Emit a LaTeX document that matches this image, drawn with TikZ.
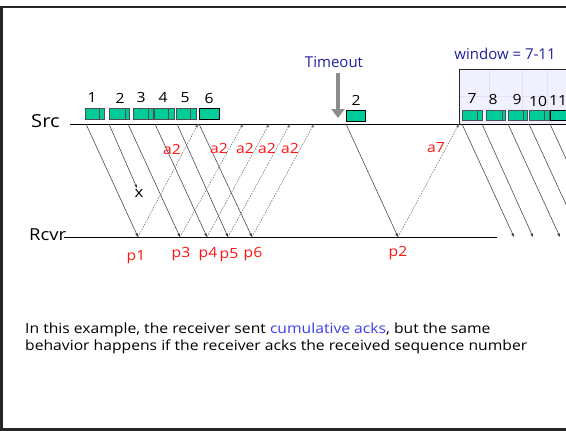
\documentclass[tikz,border=0pt]{standalone}
\usepackage{fontspec}
\setmainfont{Open Sans}
\newfontfamily\widesans[FakeStretch=1.12]{Open Sans}
\usetikzlibrary{arrows.meta}
\definecolor{pktgreen}{RGB}{0,204,153}
\definecolor{pktedge}{RGB}{80,80,80}
\definecolor{lblred}{RGB}{255,20,20}
\definecolor{darkblue}{RGB}{32,32,160}
\definecolor{ackblue}{RGB}{60,60,240}
\definecolor{lavender}{RGB}{240,240,255}
\definecolor{lavgrid}{RGB}{226,226,246}
\begin{document}
\begin{tikzpicture}[x=1pt,y=-1pt,
  pktbox/.style={fill=pktgreen,draw=pktedge,line width=0.8pt},
  pktlast/.style={fill=pktgreen,draw=black,line width=0.8pt},
  divider/.style={draw=pktedge,line width=0.8pt},
  datarrow/.style={draw=black!80,line width=0.5pt,-{Stealth[length=4pt,width=2.6pt]}},
  ackarrow/.style={draw=black!60,line width=0.5pt,dash pattern=on 1.5pt off 1.2pt,-{Stealth[length=4pt,width=2.6pt]}},
  seqlbl/.style={font=\widesans\fontsize{14}{16}\selectfont,inner sep=0pt},
  redlbl/.style={font=\widesans\fontsize{14}{16}\selectfont,text=lblred,inner sep=0pt},
  axislbl/.style={font=\widesans\fontsize{18}{20}\selectfont,inner sep=0pt,anchor=base west},
  bodytext/.style={font=\widesans\fontsize{14}{16}\selectfont,inner sep=0pt,anchor=base west}
]
\useasboundingbox (0,0) rectangle (566,431);
% frame
\draw[line width=2.6pt,black!85] (580,7) -- (1.6,7) -- (1.6,429.2) -- (580,429.2);
% window box
\fill[lavender] (459,69) rectangle (580,123.5);
\foreach \gx in {489,522,547} \draw[lavgrid,line width=0.4pt] (\gx,70) -- (\gx,123);
\draw[lavgrid,line width=0.4pt] (460,96) -- (580,96);
\draw[black!85,line width=0.9pt] (580,69) -- (459,69) -- (459,124);
% time lines
\node[axislbl] (src) at (31,127) {Src};
\node[axislbl,font=\widesans\fontsize{16.5}{18}\selectfont] (rcvr) at (29,240.5) {Rcvr};
\coordinate (srcL) at (70,124);
\coordinate (srcR) at (580,124);
\coordinate (rcvL) at (64,237);
\coordinate (rcvR) at (497,237);
\draw[black,line width=0.9pt] (srcL) -- (srcR);
\draw[black,line width=0.9pt] (rcvL) -- (rcvR);
% original packets
\draw[pktbox] (85,108) rectangle (104,119);  \draw[divider] (99,108) -- (99,119);
\draw[pktbox] (109,108) rectangle (129,119); \draw[divider] (125,108) -- (125,119);
\draw[pktbox] (133,108) rectangle (153,119); \draw[divider] (148,108) -- (148,119);
\draw[pktbox] (154,108) rectangle (174,119); \draw[divider] (168,108) -- (168,119);
\draw[pktbox] (176,108) rectangle (196,119); \draw[divider] (190,108) -- (190,119);
\draw[pktlast] (199,108) rectangle (219,119);
\node[seqlbl] (n1) at (92,98) {1};
\node[seqlbl] (n2) at (120,98) {2};
\node[seqlbl] (n3) at (141,97) {3};
\node[seqlbl] (n4) at (163,97) {4};
\node[seqlbl] (n5) at (185,98) {5};
\node[seqlbl] (n6) at (209,98) {6};
% retransmission
\draw[pktlast] (346,110) rectangle (365,121);
\node[seqlbl] (nr2) at (356,100) {2};
\node[font=\fontsize{15}{17}\selectfont,text=darkblue,inner sep=0pt] (timeout) at (334,62) {Timeout};
\coordinate (toA) at (338,73);
\coordinate (toB) at (338,118);
\draw[black!45,line width=3.5pt,-{Triangle[length=9pt,width=13pt]}] (toA) -- (toB);
% window packets
\node[font=\fontsize{15}{17}\selectfont,text=darkblue,inner sep=0pt] (win) at (505,54) {window = 7-11};
\draw[pktbox] (462,110) rectangle (482,120); \draw[divider] (477,110) -- (477,120);
\draw[pktbox] (486,110) rectangle (505,120); \draw[divider] (502,110) -- (502,120);
\draw[pktbox] (508,110) rectangle (527,120); \draw[divider] (523,110) -- (523,120);
\draw[pktbox] (529,110) rectangle (549,120); \draw[divider] (544,110) -- (544,120);
\draw[pktlast] (550,110) rectangle (580,120);
\node[seqlbl] (n7) at (472,99) {7};
\node[seqlbl] (n8) at (493,99) {8};
\node[seqlbl] (n9) at (517,99) {9};
\node[seqlbl] (n10) at (538,101) {10};
\node[seqlbl] (n11) at (558,101) {11};
% send / receive points
\coordinate (s1) at (86,124);   \coordinate (r1) at (138,237);
\coordinate (s2) at (109,124);  \coordinate (l2) at (137,188);
\coordinate (s3) at (128,124);  \coordinate (r3) at (180,237);
\coordinate (s4) at (155,124);  \coordinate (r4) at (207,237);
\coordinate (s5) at (177,124);  \coordinate (r5) at (228,237);
\coordinate (s6) at (199,124);  \coordinate (r6) at (252,237);
\coordinate (sr2) at (346,124); \coordinate (rr2) at (398,237);
\coordinate (s7) at (462,124);  \coordinate (r7) at (514,237);
\coordinate (s8) at (482,124);  \coordinate (r8) at (533,237);
\coordinate (s9) at (508,124);  \coordinate (r9) at (560,237);
\coordinate (s10) at (529,124); \coordinate (r10) at (581,237);
\coordinate (s11) at (550,124); \coordinate (r11) at (602,237);
\coordinate (k1) at (198,124);
\coordinate (k3) at (243,124);
\coordinate (k4) at (269,124);
\coordinate (k5) at (290,124);
\coordinate (k6) at (314,124);
\coordinate (k7) at (459,124);
% data
\foreach \a/\b in {s1/r1,s2/l2,s3/r3,s4/r4,s5/r5,s6/r6,sr2/rr2,s7/r7,s8/r8,s9/r9,s10/r10,s11/r11}
  \draw[datarrow] (\a) -- (\b);
\node[font=\widesans\fontsize{15}{17}\selectfont,inner sep=0pt] (lost) at (139,193) {x};
% acks
\foreach \a/\b in {r1/k1,r3/k3,r4/k4,r5/k5,r6/k6,rr2/k7}
  \draw[ackarrow] (\a) -- (\b);
\node[redlbl] (a21) at (172,149) {a2};
\node[redlbl] (a23) at (219,148) {a2};
\node[redlbl] (a24) at (245,148) {a2};
\node[redlbl] (a25) at (267,148) {a2};
\node[redlbl] (a26) at (290,148) {a2};
\node[redlbl] (a7) at (436,148) {a7};
\node[redlbl] (p1) at (136,257) {p1};
\node[redlbl] (p3) at (181,254) {p3};
\node[redlbl] (p4) at (208,254) {p4};
\node[redlbl] (p5) at (229,255) {p5};
\node[redlbl] (p6) at (253,254) {p6};
\node[redlbl] (p2) at (398,253) {p2};
% text
\node[bodytext] (t1) at (25,333) {In this example, the receiver sent \textcolor{ackblue}{cumulative acks}, but the same};
\node[bodytext] (t2) at (25,350) {behavior happens if the receiver acks the received sequence number};
\end{tikzpicture}
\end{document}
